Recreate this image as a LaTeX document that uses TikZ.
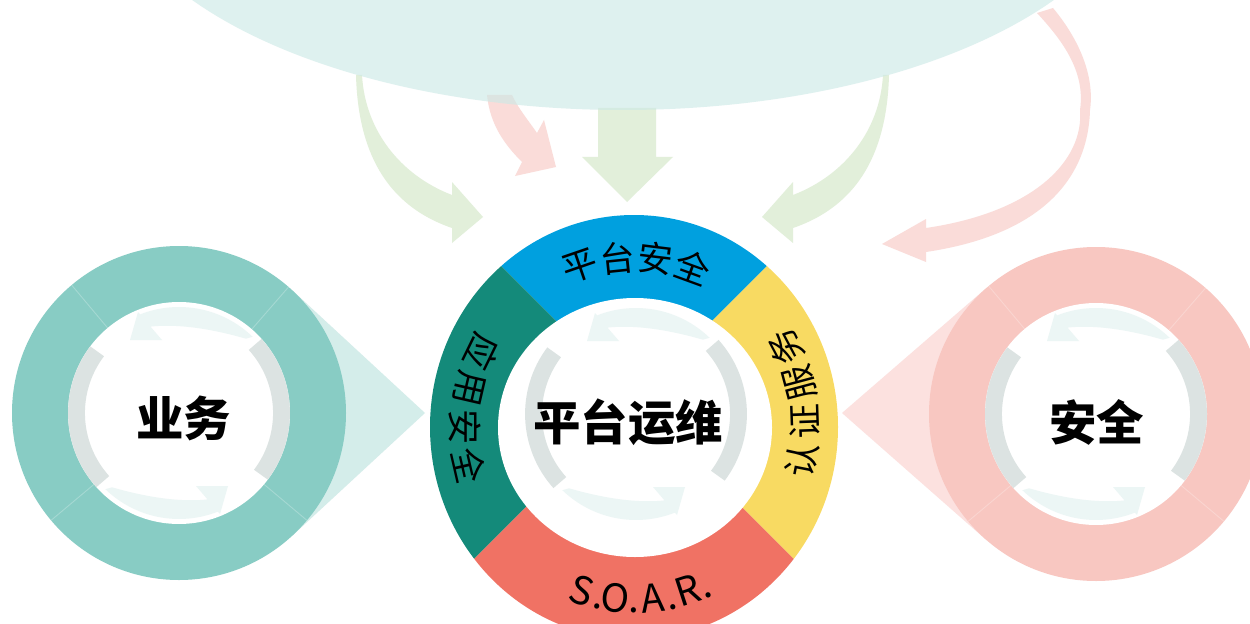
\documentclass[tikz,border=0pt]{standalone}
\usepackage{fontspec}
\setmainfont{Noto Sans CJK SC}
\usetikzlibrary{calc}
\definecolor{topell}{RGB}{204,233,230}
\definecolor{garrow}{RGB}{226,239,218}
\definecolor{parrow}{RGB}{250,220,217}
\definecolor{tealring}{RGB}{136,204,196}
\definecolor{tealtri}{RGB}{212,237,234}
\definecolor{pinkring}{RGB}{248,199,193}
\definecolor{pinktri}{RGB}{252,225,223}
\definecolor{cblue}{RGB}{0,160,223}
\definecolor{cteal}{RGB}{20,138,122}
\definecolor{cred}{RGB}{240,114,100}
\definecolor{cyellow}{RGB}{248,218,98}
\definecolor{graybar}{RGB}{220,227,226}
\definecolor{lightarr}{RGB}{236,246,245}
\tikzset{
  graybarline/.style={draw=graybar, line width=9.6pt, line cap=butt},
  lightarrfill/.style={fill=lightarr},
  faintline/.style={draw=white, draw opacity=0.25, line width=0.5pt},
  biglabel/.style={font=\fontsize{27}{27}\selectfont\bfseries, inner sep=0pt, text=black},
  ringtxt/.style={font=\fontsize{20}{20}\selectfont, inner sep=0pt, text=black},
  soartxt/.style={font=\fontsize{22}{22}\selectfont, inner sep=0pt, text=black, anchor=base},
  cycdeco/.pic={
    \draw[graybarline] (143:102.5) arc[start angle=143,end angle=222,radius=102.5];
    \draw[graybarline] (-37:102.5) arc[start angle=-37,end angle=42,radius=102.5];
    \foreach \rr in {0,180}{
      \fill[lightarrfill, rotate=\rr] (-38.9,98.6) arc[start angle=111.5,end angle=46,radius=106]
        -- (48:100) .. controls (75:90) and (95:89) .. (-28.5,86.4)
        -- (-17,73) -- (-49,73) -- (-41,101) -- cycle;
    }
  }
}
\newcommand\ringch[4]{\node[ringtxt, rotate=#3] (#4) at ($(RC)+(#1:170)$) {#2};}
\newcommand\soarch[4]{\node[soartxt, rotate=#3] (#4) at ($(RC)+(#1:186)$) {#2};}
\begin{document}
\begin{tikzpicture}[x=0.02cm,y=0.02cm]
\useasboundingbox (0,0) rectangle (1250,623);
\fill[white] (0,0) rectangle (1250,623);
\clip (0,0) rectangle (1250,623);

% green arrows
\fill[garrow] (356,548) .. controls (358,473) and (385,418) .. (452,395) -- (452,380) -- (483,406) -- (452,441) -- (452,428) .. controls (400,448) and (365,493) .. (362,548) -- cycle;
\fill[garrow] (598,515) -- (598,466) -- (582,466) -- (627,421) -- (673,466) -- (656,466) -- (656,515) -- cycle;
\fill[garrow] (889,548) .. controls (887,473) and (860,418) .. (793,395) -- (793,380) -- (762,406) -- (793,441) -- (793,428) .. controls (845,448) and (880,493) .. (883,548) -- cycle;
% pink arrows
\fill[parrow] (487,528) .. controls (490,498) and (505,478) .. (522,461) -- (515,447) -- (556,456) -- (544,503) -- (537,490) .. controls (528,503) and (518,515) .. (512,528) -- cycle;
\fill[parrow] (1053,615) .. controls (1078,585) and (1095,548) .. (1090,513) .. controls (1088,443) and (1040,388) .. (926,371) -- (926,361) -- (882,379) -- (926,404) -- (926,395) .. controls (1035,411) and (1084,463) .. (1080,513) .. controls (1086,553) and (1060,585) .. (1037,610) -- cycle;

% top ellipse
\fill[topell, fill opacity=0.63] (623,763) ellipse [x radius=520, y radius=250];

% left circle
\coordinate (LC) at (179,210);
\fill[tealtri] (425,210) -- (292.4,332.6) -- (LC) -- (292.4,87.4) -- cycle;
\fill[tealring] (LC) circle[radius=167];
\fill[white] (LC) circle[radius=111];
\foreach \a in {49,130,220,320}{\draw[faintline] ($(LC)+(\a:111)$) -- ($(LC)+(\a:167)$);}
\pic at (LC) {cycdeco};
\node[biglabel] (yewu) at (183.5,204.5) {业务};

% right circle
\coordinate (RCc) at (1096,209);
\fill[pinktri] (842,210) -- (986.2,334.9) -- (RCc) -- (986.2,83.1) -- cycle;
\fill[pinkring] (RCc) circle[radius=167];
\fill[white] (RCc) circle[radius=111];
\foreach \a in {49,130,220,320}{\draw[faintline] ($(RCc)+(\a:111)$) -- ($(RCc)+(\a:167)$);}
\pic at (RCc) {cycdeco};
\node[biglabel] (anquan) at (1096.5,200.5) {安全};

% center ring
\begin{scope}
\clip (634,196) ellipse [x radius=204, y radius=212];
\fill[cblue] (634,224) -- +(45:400) -- +(90:400) -- +(135:400) -- cycle;
\fill[cteal] (634,224) -- +(135:400) -- +(180:400) -- +(225:400) -- cycle;
\fill[cred] (634,224) -- +(225:400) -- +(270:400) -- +(315:400) -- cycle;
\fill[cyellow] (634,224) -- +(315:400) -- +(360:400) -- +(405:400) -- cycle;
\end{scope}
\fill[white] (635,195.5) ellipse [x radius=137, y radius=129.5];
\pic at (636,209) {cycdeco};
\node[biglabel] (yunwei) at (628,201) {平台运维};

\coordinate (RC) at (635,196);
% top (clockwise)
\ringch{109}{平}{19}{t1}
\ringch{96}{台}{6}{t2}
\ringch{83}{安}{-7}{t3}
\ringch{70}{全}{-20}{t4}
% right
\ringch{-11}{认}{79}{r1}
\ringch{2}{证}{92}{r2}
\ringch{15}{服}{105}{r3}
\ringch{28}{务}{118}{r4}
% left
\ringch{154}{应}{244}{l1}
\ringch{167}{用}{257}{l2}
\ringch{180}{安}{270}{l3}
\ringch{193}{全}{283}{l4}
% bottom
\soarch{252}{S}{342}{b1}
\soarch{258}{.}{348}{b2}
\soarch{263.5}{O}{353.5}{b3}
\soarch{269.5}{.}{359.5}{b4}
\soarch{276}{A}{6}{b5}
\soarch{282}{.}{12}{b6}
\soarch{288}{R}{18}{b7}
\soarch{293.5}{.}{23.5}{b8}
\end{tikzpicture}
\end{document}
